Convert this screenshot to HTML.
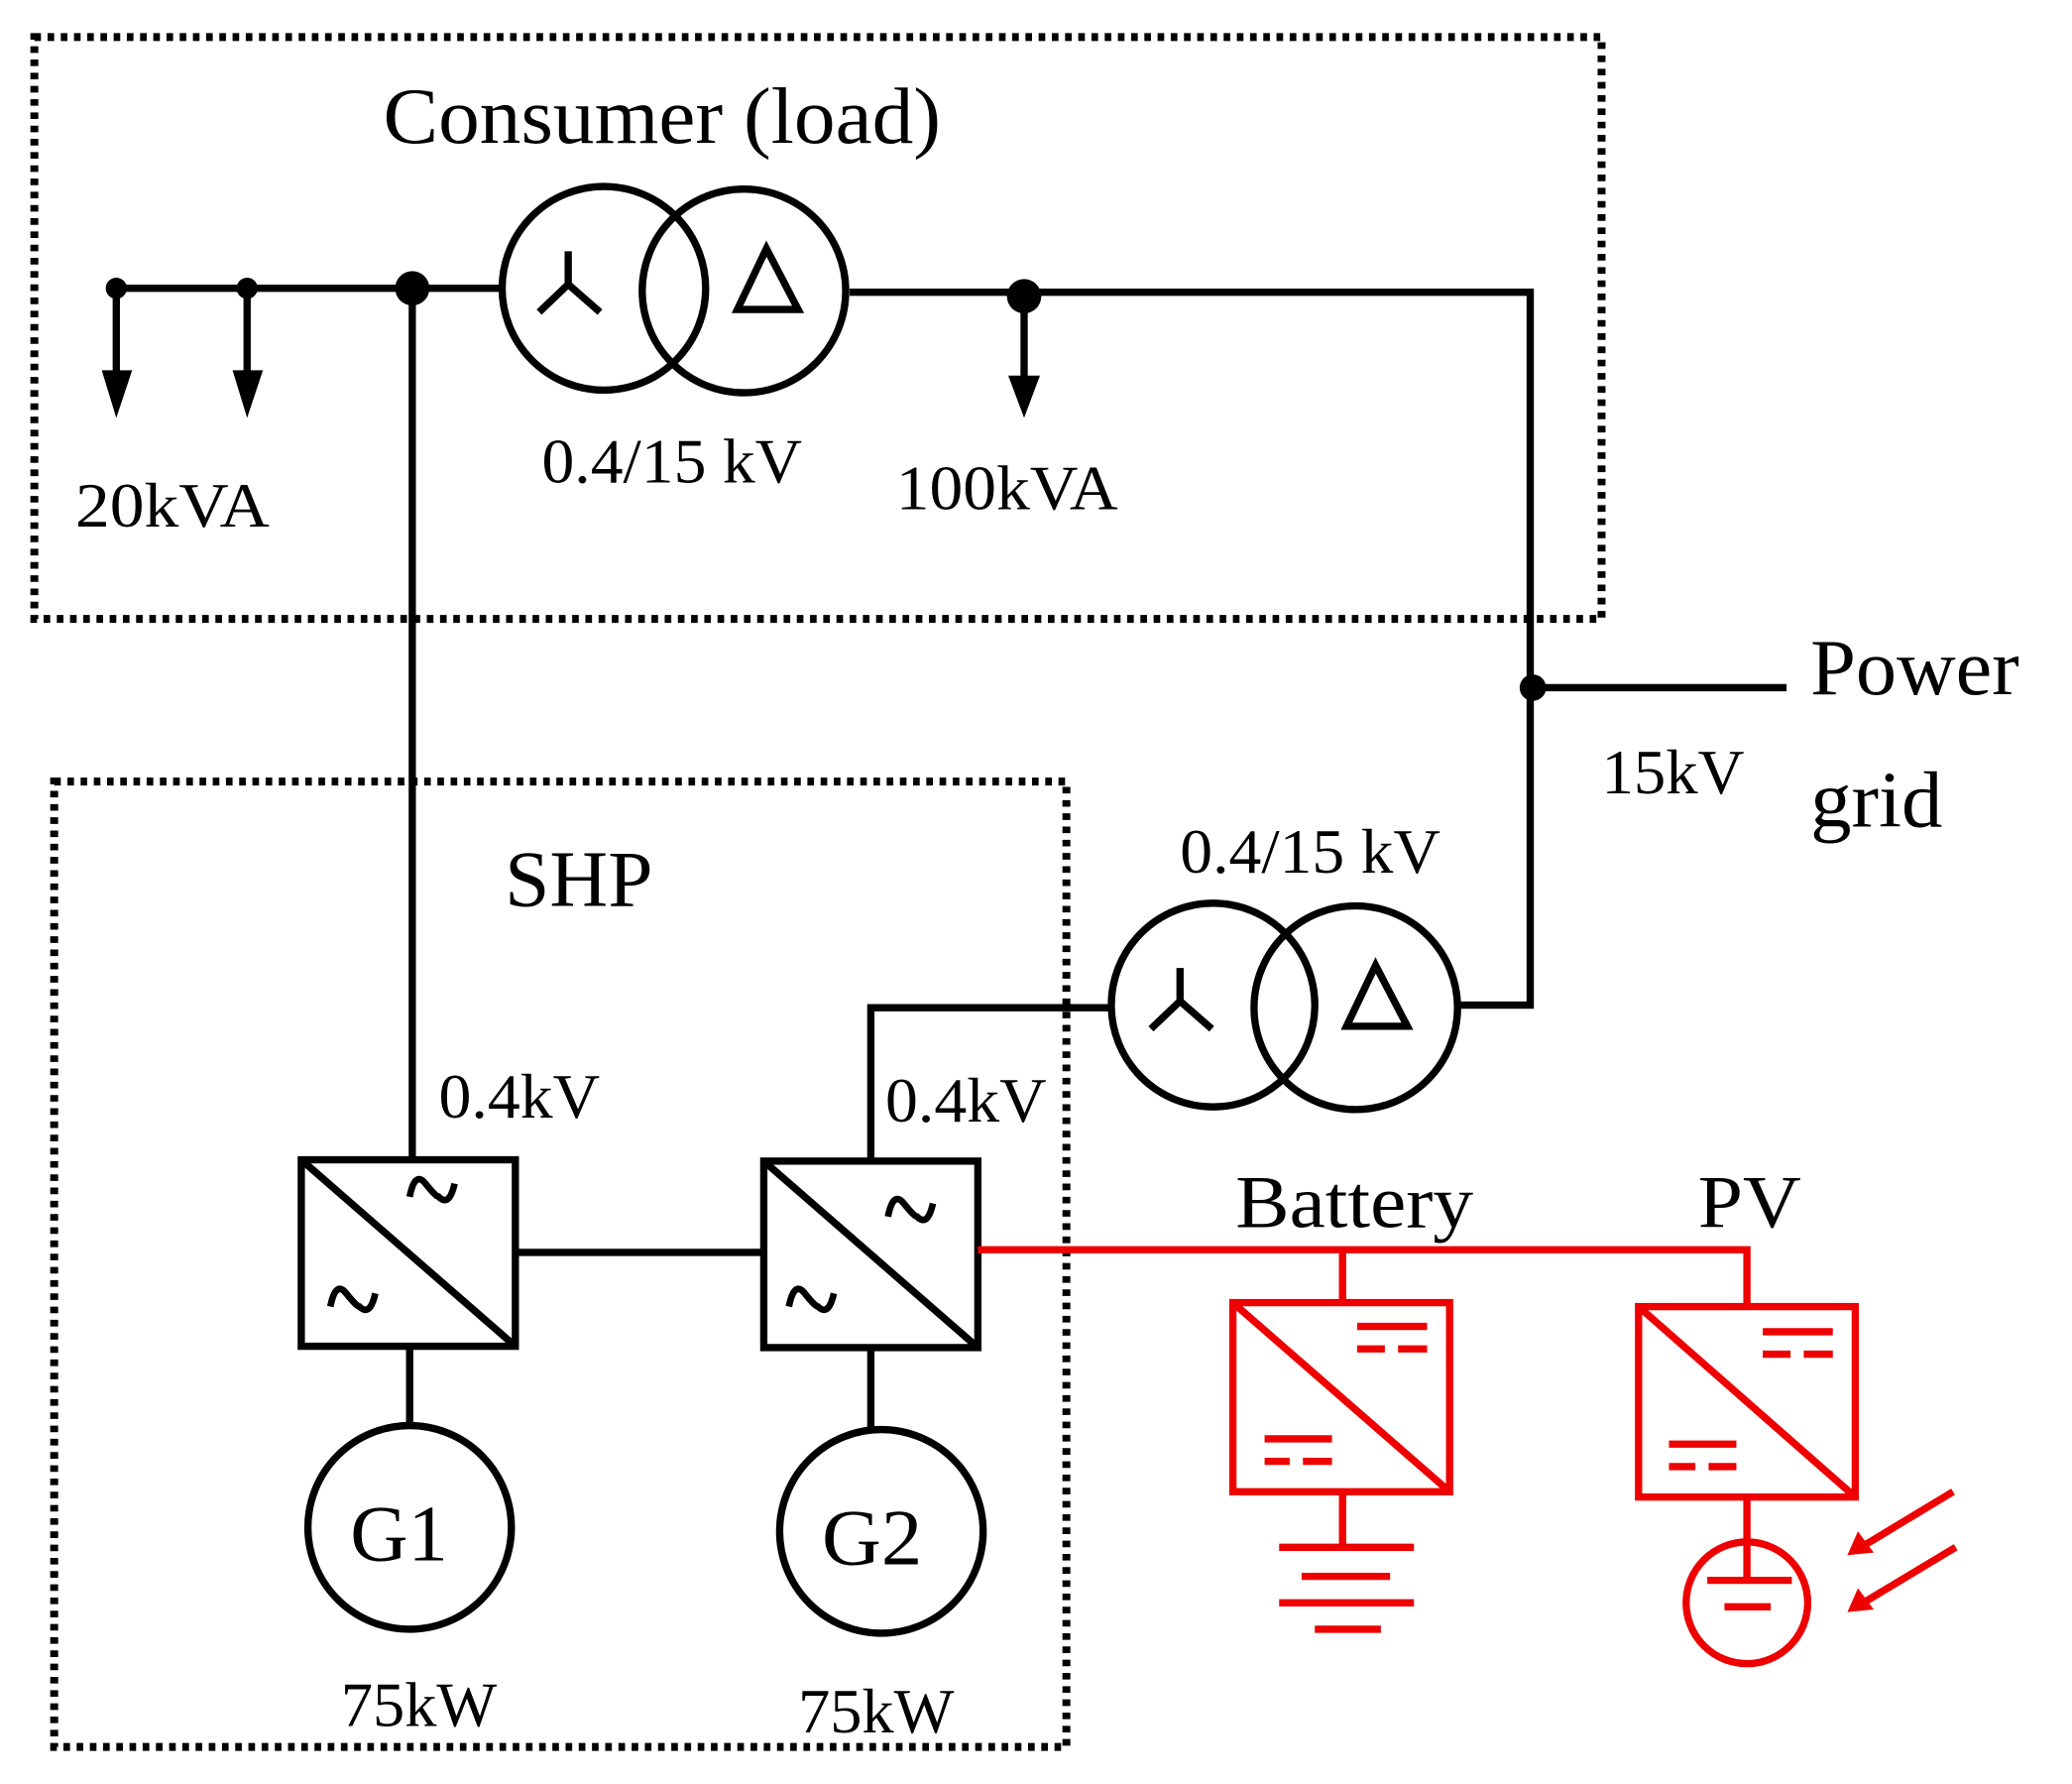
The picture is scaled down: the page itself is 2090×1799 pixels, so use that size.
<!DOCTYPE html>
<html><head><style>html,body{margin:0;padding:0;background:#fff}svg{display:block}text{font-family:"Liberation Serif",serif;fill:#000}</style></head><body>
<svg width="2090" height="1799" viewBox="0 0 1568 1349" preserveAspectRatio="none" xmlns="http://www.w3.org/2000/svg">
<g fill="none" stroke="#000" stroke-width="6" stroke-dasharray="5 5">
<rect x="26" y="28" width="1186" height="440"/>
<rect x="41" y="591" width="766" height="730"/>
</g>
<g fill="none" stroke="#000" stroke-width="5.5">
<path d="M88 218H380M312 218V876M88 218V285M187 218V285M643 221H1158V760H1103M775 221V288M1160 520H1352M840 762H659V877M390 947H577M310 1018V1078M659 1019V1080"/>
<circle cx="457" cy="218" r="77"/><circle cx="563" cy="220" r="77"/>
<circle cx="918" cy="760" r="77"/><circle cx="1026" cy="762" r="77"/>
<path d="M430 190V215L408 236M430 215L454 236"/>
<path d="M580 188L558 234H604Z"/>
<path d="M893 732V757L871 778M893 757L917 778"/>
<path d="M1041 730L1019 776H1065Z"/>
<rect x="228" y="877" width="162" height="141"/><path d="M228 877L390 1018"/>
<rect x="578" y="878" width="162" height="141"/><path d="M578 878L740 1019"/>
<path d="M310 905q4-20 12-10t10 10q8 8 12-10M250 988q4-20 12-10t10 10q8 8 12-10M672 920q4-20 12-10t10 10q8 8 12-10M597 988q4-20 12-10t10 10q8 8 12-10" stroke-width="5"/>
<circle cx="310" cy="1155" r="77"/><circle cx="667" cy="1158" r="77"/>
</g>
<g fill="#000">
<circle cx="88" cy="218" r="8"/><circle cx="187" cy="218" r="8"/><circle cx="312" cy="218" r="13"/><circle cx="775" cy="224" r="13"/><circle cx="1160" cy="520" r="10"/>
<path d="M77 280H100L88 316ZM176 280H199L187 316ZM763 284H787L775 316Z"/>
</g>
<g fill="none" stroke="#e00" stroke-width="5.5">
<path d="M740 945H1322V988M1016 945V985"/>
<rect x="933" y="985" width="164" height="143"/><path d="M933 985L1097 1128"/>
<path d="M1027 1003H1080M1027 1020H1048M1058 1020H1080M957 1088H1008M957 1105H976M986 1105H1008"/>
<path d="M1016 1128V1170M968 1170H1070M985 1192H1052M968 1212H1070M995 1232H1045"/>
<rect x="1240" y="988" width="164" height="144"/><path d="M1240 988L1404 1132"/>
<path d="M1334 1007H1387M1334 1024H1355M1365 1024H1387M1263 1092H1314M1263 1109H1283M1293 1109H1314"/>
<path d="M1322 1132V1195M1292 1195H1356M1305 1215H1340"/>
<circle cx="1322" cy="1212" r="46"/>
<path d="M1478 1128L1410 1169M1480 1170L1410 1212"/>
</g>
<g fill="#e00"><path d="M1398 1176L1406 1158L1418 1174ZM1398 1219L1406 1201L1418 1217Z"/></g>
<text x="290" y="108" font-size="60" textLength="422" lengthAdjust="spacingAndGlyphs">Consumer (load)</text>
<text x="410" y="365" font-size="48" textLength="197" lengthAdjust="spacingAndGlyphs">0.4/15 kV</text>
<text x="678" y="385" font-size="48" textLength="168" lengthAdjust="spacingAndGlyphs">100kVA</text>
<text x="57" y="398" font-size="48" textLength="147" lengthAdjust="spacingAndGlyphs">20kVA</text>
<text x="1370" y="525" font-size="60" textLength="158" lengthAdjust="spacingAndGlyphs">Power</text>
<text x="1370" y="625" font-size="60" textLength="100" lengthAdjust="spacingAndGlyphs">grid</text>
<text x="1212" y="600" font-size="48" textLength="108" lengthAdjust="spacingAndGlyphs">15kV</text>
<text x="382" y="685" font-size="60" textLength="112" lengthAdjust="spacingAndGlyphs">SHP</text>
<text x="893" y="660" font-size="48" textLength="197" lengthAdjust="spacingAndGlyphs">0.4/15 kV</text>
<text x="332" y="845" font-size="48" textLength="122" lengthAdjust="spacingAndGlyphs">0.4kV</text>
<text x="670" y="848" font-size="48" textLength="122" lengthAdjust="spacingAndGlyphs">0.4kV</text>
<text x="265" y="1180" font-size="60" textLength="74" lengthAdjust="spacingAndGlyphs">G1</text>
<text x="622" y="1183" font-size="60" textLength="76" lengthAdjust="spacingAndGlyphs">G2</text>
<text x="258" y="1305" font-size="48" textLength="118" lengthAdjust="spacingAndGlyphs">75kW</text>
<text x="604" y="1310" font-size="48" textLength="118" lengthAdjust="spacingAndGlyphs">75kW</text>
<text x="935" y="928" font-size="56" textLength="180" lengthAdjust="spacingAndGlyphs">Battery</text>
<text x="1285" y="928" font-size="56" textLength="78" lengthAdjust="spacingAndGlyphs">PV</text>
</svg>
</body></html>
